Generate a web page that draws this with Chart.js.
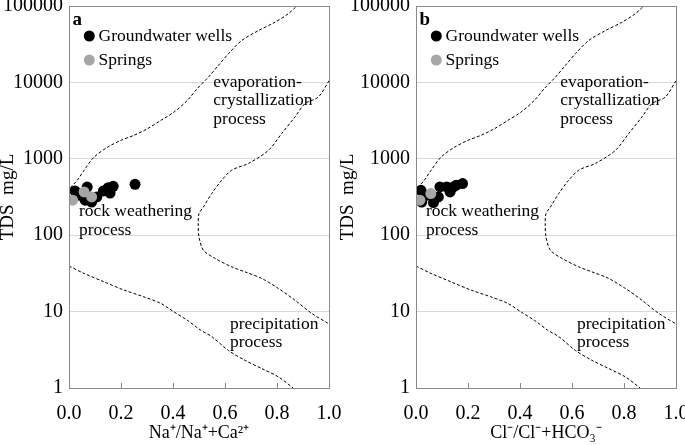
<!DOCTYPE html>
<html>
<head>
<meta charset="utf-8">
<script src="https://cdn.jsdelivr.net/npm/chart.js@4.4.1/dist/chart.umd.min.js"></script>
<style>
  body { margin: 0; background: #fff; }
  #wrap { position: relative; width: 685px; height: 445px; overflow: hidden; }
  canvas { position: absolute; top: 0; }
  #gibbs-a { left: 0; }
  #gibbs-b { left: 340px; }
</style>
</head>
<body>
<div id="wrap">
  <canvas id="gibbs-a" width="360" height="445"></canvas>
  <canvas id="gibbs-b" width="345" height="445"></canvas>
</div>
<script>
// panel a: Na+/(Na+ + Ca2+) vs TDS
const naRatioWells = [0.023, 0.070, 0.132, 0.151, 0.170, 0.158, 0.254, 0.062, 0.087, 0.107, 0.042];
const tdsWellsA = [379, 427, 380, 419, 437, 356, 464, 287, 272, 317, 333];
const naRatioSprings = [0.014, 0.058, 0.087];
const tdsSpringsA = [287, 368, 317];

// panel b: Cl-/(Cl- + HCO3-) vs TDS
const clRatioWells = [0.019, 0.022, 0.067, 0.086, 0.092, 0.118, 0.144, 0.131, 0.155, 0.179, 0.038];
const tdsWellsB = [387, 272, 267, 317, 428, 428, 428, 368, 451, 474, 333];
const clRatioSprings = [0.015, 0.057];
const tdsSpringsB = [287, 351];

// Gibbs boundary curves (same in both panels)
const upperX = [0.005, 0.032, 0.058, 0.096, 0.147, 0.199, 0.25, 0.301, 0.353, 0.404, 0.455, 0.493, 0.536, 0.574, 0.613, 0.664, 0.728, 0.792, 0.843, 0.876];
const upperTds = [420, 524, 708, 1050, 1410, 1740, 2030, 2470, 3180, 4090, 5800, 8270, 11700, 16600, 23700, 35300, 47500, 61300, 79000, 100000];
const noseX = [1.0, 0.959, 0.908, 0.869, 0.818, 0.767, 0.690, 0.626, 0.587, 0.549, 0.517, 0.500, 0.497, 0.500, 0.517, 0.562, 0.626, 0.677, 0.741, 0.805, 0.869, 0.933, 1.0];
const noseTds = [10500, 6430, 5290, 3530, 2140, 1290, 870, 710, 523, 351, 234, 192, 142, 95, 63.6, 49.6, 38.5, 33.1, 27.2, 20.1, 14.1, 9.5, 6.9];
const lowerX = [0, 0.058, 0.135, 0.212, 0.288, 0.353, 0.404, 0.455, 0.507, 0.549, 0.613, 0.677, 0.741, 0.805, 0.862];
const lowerTds = [39.4, 31.6, 24.5, 19.1, 15.6, 12.8, 9.9, 7.7, 5.7, 4.7, 3.1, 2.3, 1.8, 1.4, 1.0];

const xTicks = [0, 0.2, 0.4, 0.6, 0.8, 1.0];
const yTicks = [1, 10, 100, 1000, 10000, 100000];
const seriesNames = ['Groundwater wells', 'Springs'];

// region labels: [lines, x, TDS] anchored at first line
const regionLabels = [
  [['evaporation-', 'crystallization', 'process'], 0.555, 10100],
  [['rock weathering', 'process'], 0.038, 202],
  [['precipitation', 'process'], 0.619, 6.87],
];

const SERIF = '"Liberation Serif", "Times New Roman", serif';

document.addEventListener('DOMContentLoaded', () => {
    main();
});

function main() {
    drawPanel('gibbs-a', 'a', naRatioWells, tdsWellsA, naRatioSprings, tdsSpringsA,
        'Na\u207A/Na\u207A+Ca\u00B2\u207A', 31, 69);
    drawPanel('gibbs-b', 'b', clRatioWells, tdsWellsB, clRatioSprings, tdsSpringsB,
        'Cl\u207B/Cl\u207B+HCO\u2083\u207B', 9, 76);
}

function toPoints(xs, ys) {
    return xs.map((x, i) => ({x: x, y: ys[i]}));
}

// drop the extra room chart.js keeps for overhanging tick labels
function noOverhang(s) {
    s.paddingTop = 0;
    s.paddingBottom = 0;
    s.paddingLeft = 0;
    s.paddingRight = 0;
}

const gibbsDecor = {
    id: 'gibbsDecor',
    afterDraw(chart, args, opts) {
        const ctx = chart.ctx;
        const ca = chart.chartArea;
        const xs = chart.scales.x, ys = chart.scales.y;
        ctx.save();
        // frame + inward ticks
        ctx.strokeStyle = '#898989';
        ctx.lineWidth = 1;
        ctx.strokeRect(Math.round(ca.left) + 0.5, Math.round(ca.top) + 0.5,
            Math.round(ca.right - ca.left), Math.round(ca.bottom - ca.top));
        xTicks.forEach(v => {
            const px = Math.round(xs.getPixelForValue(v)) + 0.5;
            ctx.beginPath();
            ctx.moveTo(px, ca.bottom);
            ctx.lineTo(px, ca.bottom - 5);
            ctx.stroke();
        });
        // region labels
        ctx.fillStyle = '#000';
        ctx.font = '17.5px ' + SERIF;
        ctx.textBaseline = 'middle';
        ctx.textAlign = 'left';
        regionLabels.forEach(([lines, x, tds]) => {
            const px = xs.getPixelForValue(x), py = ys.getPixelForValue(tds);
            lines.forEach((t, i) => ctx.fillText(t, px, py + i * 18.8));
        });
        // legend
        chart.data.datasets.slice(0, 2).forEach((ds, i) => {
            const cy = ca.top + 30 + i * 24;
            ctx.fillStyle = ds.backgroundColor;
            ctx.beginPath();
            ctx.arc(ca.left + 20.3, cy, 5.5, 0, Math.PI * 2);
            ctx.fill();
            ctx.fillStyle = '#000';
            ctx.fillText(ds.label, ca.left + 29.5, cy);
        });
        // panel letter
        ctx.font = 'bold 19px ' + SERIF;
        ctx.fillText(opts.letter, ca.left + 3.5, ca.top + 14);
        ctx.restore();
    }
};

function drawPanel(id, letter, xw, yw, xsp, ysp, xTitle, padRight, axisW) {
    const ctx = document.getElementById(id).getContext('2d');
    const curve = (xs, ys) => ({
        label: 'boundary',
        data: toPoints(xs, ys),
        showLine: true,
        borderColor: '#000',
        borderWidth: 1,
        borderDash: [3, 2],
        pointRadius: 0,
        tension: 0.3,
        order: 2,
    });
    new Chart(ctx, {
        type: 'scatter',
        data: {
            datasets: [
                {label: seriesNames[0], data: toPoints(xw, yw), backgroundColor: '#000000',
                    pointRadius: 5.5, borderWidth: 0, order: 1},
                {label: seriesNames[1], data: toPoints(xsp, ysp), backgroundColor: '#a6a6a6',
                    pointRadius: 5.5, borderWidth: 0, order: 0},
                curve(upperX, upperTds),
                curve(noseX, noseTds),
                curve(lowerX, lowerTds),
            ],
        },
        options: {
            responsive: false,
            animation: false,
            layout: {padding: {top: 6, right: padRight, left: 0, bottom: 0}},
            plugins: {
                legend: {display: false},
                tooltip: {enabled: false},
                gibbsDecor: {letter: letter},
            },
            scales: {
                x: {
                    type: 'linear', min: 0, max: 1,
                    afterBuildTicks: s => { s.ticks = xTicks.map(v => ({value: v})); },
                    afterFit: s => { s.height = 57; noOverhang(s); },
                    grid: {display: false},
                    border: {display: false},
                    ticks: {color: '#000', padding: 6, font: {family: SERIF, size: 20},
                        callback: v => v.toFixed(1)},
                    title: {display: true, text: xTitle, color: '#000',
                        font: {family: SERIF, size: 18, lineHeight: 1}, padding: {top: 0, bottom: 3}},
                },
                y: {
                    type: 'logarithmic', min: 1, max: 100000,
                    afterBuildTicks: s => { s.ticks = yTicks.map(v => ({value: v})); },
                    afterFit: s => { s.width = axisW; noOverhang(s); },
                    grid: {color: '#d9d9d9', drawTicks: false},
                    border: {display: false},
                    ticks: {color: '#000', padding: 6, font: {family: SERIF, size: 20},
                        callback: v => String(v)},
                    title: {display: true, text: 'TDS  mg/L', color: '#000',
                        font: {family: SERIF, size: 19, lineHeight: 1}, padding: {top: -1, bottom: 0}},
                },
            },
        },
        plugins: [gibbsDecor],
    });
}
</script>
</body>
</html>
